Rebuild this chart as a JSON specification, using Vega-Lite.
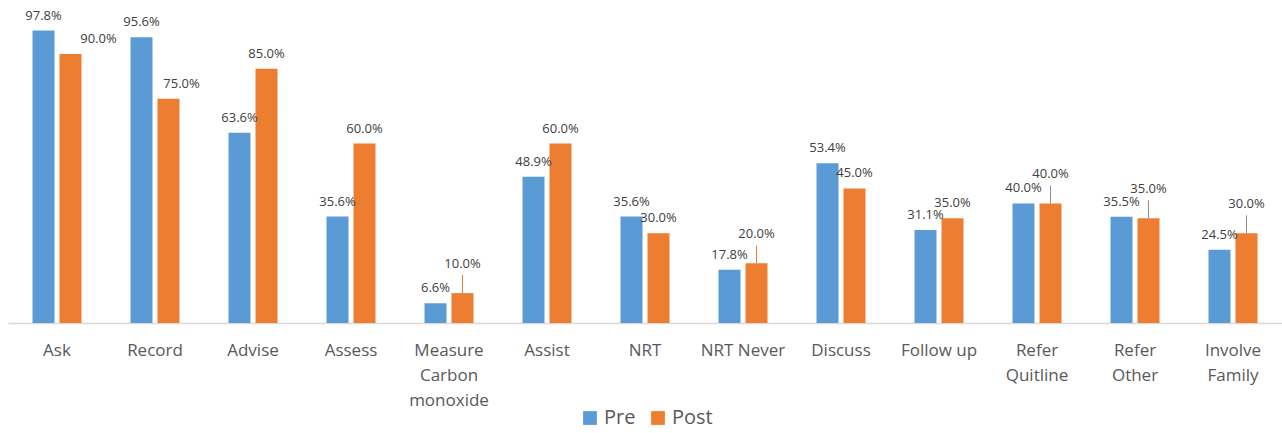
{
  "$schema": "https://vega.github.io/schema/vega-lite/v6.json",
  "width": 1274,
  "height": 299,
  "autosize": {"type": "none"},
  "padding": {"left": 8, "top": 24, "right": 0, "bottom": 110},
  "background": "white",
  "config": {
    "view": {"stroke": null},
    "font": "Open Sans"
  },
  "data": {
    "values": [
      {"item": "Ask", "group": "Pre", "value": 0.978},
      {"item": "Ask", "group": "Post", "value": 0.900},
      {"item": "Record", "group": "Pre", "value": 0.956},
      {"item": "Record", "group": "Post", "value": 0.750},
      {"item": "Advise", "group": "Pre", "value": 0.636},
      {"item": "Advise", "group": "Post", "value": 0.850},
      {"item": "Assess", "group": "Pre", "value": 0.356},
      {"item": "Assess", "group": "Post", "value": 0.600},
      {"item": "Measure Carbon monoxide", "group": "Pre", "value": 0.066},
      {"item": "Measure Carbon monoxide", "group": "Post", "value": 0.100},
      {"item": "Assist", "group": "Pre", "value": 0.489},
      {"item": "Assist", "group": "Post", "value": 0.600},
      {"item": "NRT", "group": "Pre", "value": 0.356},
      {"item": "NRT", "group": "Post", "value": 0.300},
      {"item": "NRT Never", "group": "Pre", "value": 0.178},
      {"item": "NRT Never", "group": "Post", "value": 0.200},
      {"item": "Discuss", "group": "Pre", "value": 0.534},
      {"item": "Discuss", "group": "Post", "value": 0.450},
      {"item": "Follow up", "group": "Pre", "value": 0.311},
      {"item": "Follow up", "group": "Post", "value": 0.350},
      {"item": "Refer Quitline", "group": "Pre", "value": 0.400},
      {"item": "Refer Quitline", "group": "Post", "value": 0.400},
      {"item": "Refer Other", "group": "Pre", "value": 0.355},
      {"item": "Refer Other", "group": "Post", "value": 0.350},
      {"item": "Involve Family", "group": "Pre", "value": 0.245},
      {"item": "Involve Family", "group": "Post", "value": 0.300}
    ]
  },
  "encoding": {
    "x": {
      "field": "item",
      "type": "nominal",
      "sort": null,
      "scale": {"paddingInner": 0.5, "paddingOuter": 0.25},
      "axis": {
        "title": null,
        "labelAngle": 0,
        "labelFontSize": 17,
        "labelColor": "#595959",
        "labelPadding": 19,
        "labelLineHeight": 25,
        "labelExpr": "datum.value == 'Measure Carbon monoxide' ? ['Measure','Carbon','monoxide'] : datum.value == 'Refer Quitline' ? ['Refer','Quitline'] : datum.value == 'Refer Other' ? ['Refer','Other'] : datum.value == 'Involve Family' ? ['Involve','Family'] : datum.value",
        "ticks": false,
        "domainColor": "#d9d9d9",
        "domainWidth": 1.5
      }
    },
    "xOffset": {
      "field": "group",
      "type": "nominal",
      "sort": ["Pre", "Post"],
      "scale": {"paddingInner": 0.185, "paddingOuter": 0}
    },
    "y": {
      "field": "value",
      "type": "quantitative",
      "scale": {"domain": [0, 1]},
      "axis": null
    }
  },
  "layer": [
    {
      "mark": {"type": "bar"},
      "encoding": {
        "color": {
          "field": "group",
          "type": "nominal",
          "sort": ["Pre", "Post"],
          "scale": {"domain": ["Pre", "Post"], "range": ["#5B9BD5", "#ED7D31"]},
          "legend": {
            "title": null,
            "orient": "none",
            "direction": "horizontal",
            "legendX": 572,
            "legendY": 384,
            "symbolType": "square",
            "symbolSize": 190,
            "symbolStrokeWidth": 0,
            "labelFontSize": 20,
            "labelColor": "#595959",
            "columnPadding": 12,
            "labelOffset": 4
          }
        }
      }
    },
    {
      "transform": [{"filter": "datum.group == 'Pre'"}],
      "mark": {"type": "text", "baseline": "bottom", "dy": -8, "fontSize": 13, "color": "#404040"},
      "encoding": {
        "text": {"field": "value", "type": "quantitative", "format": ".1%"}
      }
    },
    {
      "transform": [{"filter": "datum.group == 'Post' && indexof(['Ask','Record','Measure Carbon monoxide','NRT Never','Refer Quitline','Refer Other','Involve Family'], datum.item) < 0"}],
      "mark": {"type": "text", "baseline": "bottom", "dy": -8, "fontSize": 13, "color": "#404040"},
      "encoding": {
        "text": {"field": "value", "type": "quantitative", "format": ".1%"}
      }
    },
    {
      "transform": [{"filter": "datum.group == 'Post' && datum.item == 'Ask'"}],
      "mark": {"type": "text", "baseline": "bottom", "dy": -8, "dx": 28, "fontSize": 13, "color": "#404040"},
      "encoding": {
        "text": {"field": "value", "type": "quantitative", "format": ".1%"}
      }
    },
    {
      "transform": [{"filter": "datum.group == 'Post' && datum.item == 'Record'"}],
      "mark": {"type": "text", "baseline": "bottom", "dy": -8, "dx": 13, "fontSize": 13, "color": "#404040"},
      "encoding": {
        "text": {"field": "value", "type": "quantitative", "format": ".1%"}
      }
    },
    {
      "transform": [{"filter": "datum.group == 'Post' && indexof(['Measure Carbon monoxide','NRT Never','Refer Quitline','Refer Other','Involve Family'], datum.item) >= 0"}],
      "mark": {"type": "text", "baseline": "bottom", "dy": -22, "fontSize": 13, "color": "#404040"},
      "encoding": {
        "text": {"field": "value", "type": "quantitative", "format": ".1%"}
      }
    },
    {
      "transform": [{"filter": "datum.group == 'Post' && indexof(['Measure Carbon monoxide','NRT Never'], datum.item) >= 0"}],
      "mark": {"type": "rule", "color": "#ED7D31", "strokeWidth": 1, "y2Offset": -18},
      "encoding": {
        "y2": {"field": "value"}
      }
    },
    {
      "transform": [{"filter": "datum.group == 'Post' && indexof(['Refer Quitline','Refer Other','Involve Family'], datum.item) >= 0"}],
      "mark": {"type": "rule", "color": "#8c8c8c", "strokeWidth": 1, "y2Offset": -18},
      "encoding": {
        "y2": {"field": "value"}
      }
    }
  ]
}
